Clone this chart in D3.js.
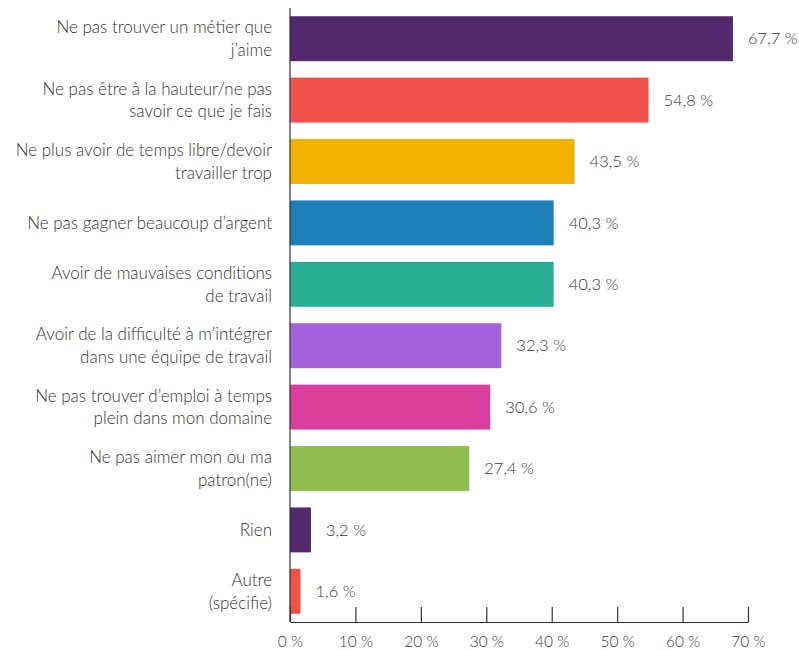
<!DOCTYPE html>
<html>
<head>
<meta charset="utf-8">
<script src="https://cdn.jsdelivr.net/npm/d3@7/dist/d3.min.js"></script>
<style>
  html, body { margin: 0; padding: 0; background: #fff; }
  svg { display: block; }
  text { font-family: Lato, "Open Sans", sans-serif; font-weight: 300; }
</style>
</head>
<body>
<svg id="chart" width="799" height="650"></svg>
<script>
const categories = [
  ["Ne pas trouver un métier que", "j’aime"],
  ["Ne pas être à la hauteur/ne pas", "savoir ce que je fais"],
  ["Ne plus avoir de temps libre/devoir", "travailler trop"],
  ["Ne pas gagner beaucoup d’argent"],
  ["Avoir de mauvaises conditions", "de travail"],
  ["Avoir de la difficulté à m’intégrer", "dans une équipe de travail"],
  ["Ne pas trouver d’emploi à temps", "plein dans mon domaine"],
  ["Ne pas aimer mon ou ma", "patron(ne)"],
  ["Rien"],
  ["Autre", "(spécifie)"]
];
const values = [67.7, 54.8, 43.5, 40.3, 40.3, 32.3, 30.6, 27.4, 3.2, 1.6];
const valueLabels = ["67,7 %", "54,8 %", "43,5 %", "40,3 %", "40,3 %", "32,3 %", "30,6 %", "27,4 %", "3,2 %", "1,6 %"];
const colors = ["#53296e", "#f05049", "#f2b200", "#1c7fba", "#29ae94", "#a463dc", "#da3e9d", "#93bf52", "#53296e", "#f05049"];
const xTicks = [0, 10, 20, 30, 40, 50, 60, 70];
const xTickLabels = ["0 %", "10 %", "20 %", "30 %", "40 %", "50 %", "60 %", "70 %"];

const svg = d3.select("#chart");
const x0 = 290, x1 = 748, yTop = 8, yBot = 622;

const x = d3.scaleLinear().domain([0, 70]).range([x0, x1]);
const y = d3.scaleBand().domain(d3.range(categories.length)).range([yTop, yBot])
  .paddingInner(0.268).paddingOuter(0.134);

// bars
svg.append("g").selectAll("rect").data(values).join("rect")
  .attr("x", x(0))
  .attr("y", (d, i) => y(i))
  .attr("width", d => x(d) - x(0))
  .attr("height", y.bandwidth())
  .attr("fill", (d, i) => colors[i]);

// value labels
svg.append("g").selectAll("text").data(values).join("text")
  .attr("x", d => x(d) + 15)
  .attr("y", (d, i) => y(i) + y.bandwidth() / 2)
  .attr("dy", "0.35em")
  .attr("font-size", 16.5)
  .attr("fill", "#3a3a3a")
  .text((d, i) => valueLabels[i]);

// category labels
const lh = 22.6;
const cat = svg.append("g").selectAll("text").data(categories).join("text")
  .attr("text-anchor", "end")
  .attr("font-size", 17)
  .attr("fill", "#333")
  .attr("y", (d, i) => y(i) + y.bandwidth() / 2 - (d.length - 1) * lh / 2)
  .attr("dy", "0.35em");
cat.each(function(d) {
  const t = d3.select(this);
  const yy = +t.attr("y");
  d.forEach((line, k) => {
    t.append("tspan").attr("x", 272).attr("y", yy + k * lh).attr("dy", "0.35em").text(line);
  });
});

// x axis
const xAxis = d3.axisBottom(x).tickValues(xTicks).tickFormat((d, i) => xTickLabels[i]).tickSize(0).tickPadding(14);
const gx = svg.append("g").attr("transform", `translate(0,${yBot})`).call(xAxis);
gx.select(".domain").attr("stroke", "#333").attr("stroke-width", 1.2);
gx.selectAll(".tick text").attr("font-size", 15.5).attr("fill", "#3a3a3a").attr("font-family", "Lato, sans-serif").attr("font-weight", 300);
gx.selectAll(".tick").append("line").attr("y1", 0).attr("y2", -15).attr("stroke", "#333").attr("stroke-width", 1.2);

// y axis line
svg.append("line").attr("x1", x0).attr("x2", x0).attr("y1", yTop).attr("y2", yBot)
  .attr("stroke", "#333").attr("stroke-width", 1.2);
</script>
</body>
</html>
